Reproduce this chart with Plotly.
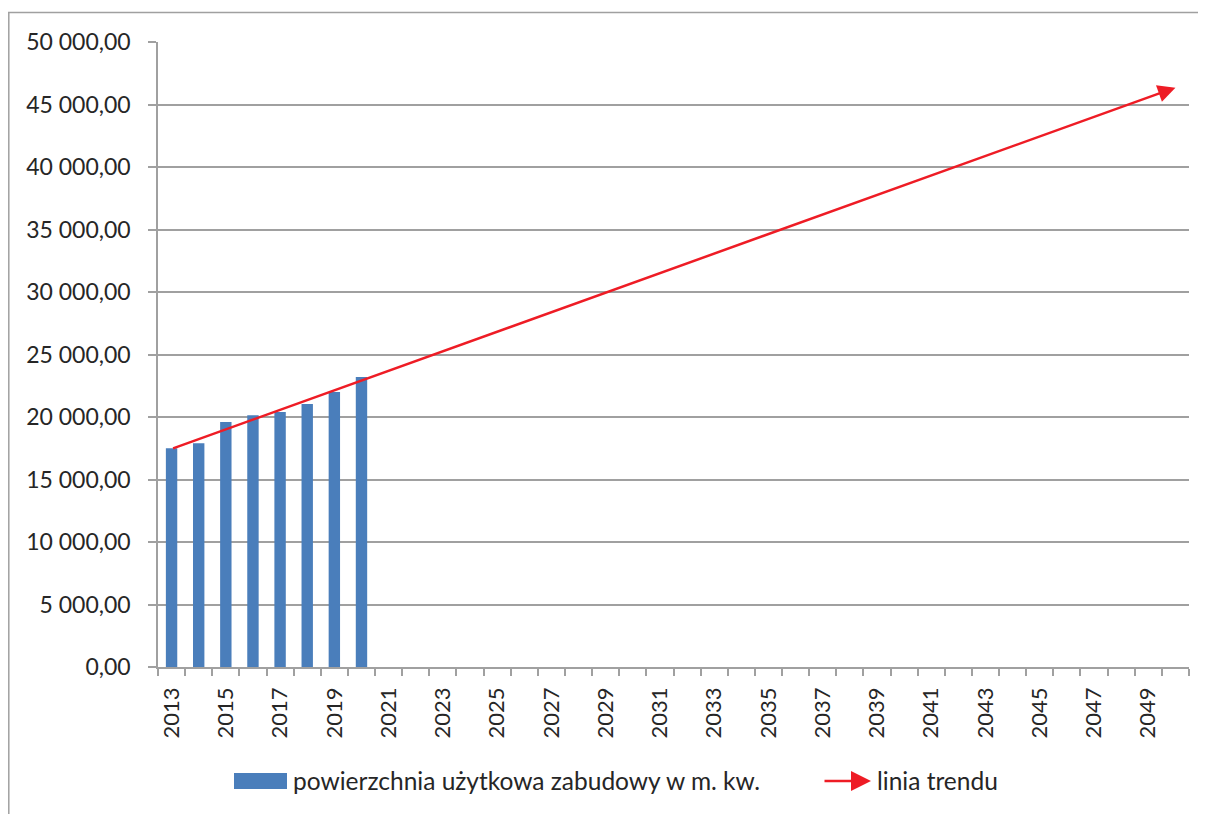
import plotly.graph_objects as go

# ---- data ----
years = [2013, 2014, 2015, 2016, 2017, 2018, 2019, 2020]
area_values = [17500, 17900, 19600, 20150, 20400, 21050, 22000, 23200]
trend_years = [2013, 2050]
trend_values = [17450, 46350]
x_tick_labels = [str(y) for y in range(2013, 2050, 2)]
y_tick_values = list(range(0, 50001, 5000))
bar_name = "powierzchnia użytkowa zabudowy w m. kw."
trend_name = "linia trendu"

# ---- geometry (page pixels; page has an 8px body margin) ----
OFF = 8
W, H = 1206 - OFF, 814 - OFF
L, R, T, B = 158, 1189, 42, 667   # plot area in page pixels
def px(x):
    return (x - L) / (R - L)
def py(y):
    return (B - y) / (B - T)

FONT = "Lato"
TXT = "#262626"
GRID = "#a0a0a0"
BLUE = "#4a7ebb"
RED = "#ee1c25"

fig = go.Figure()
fig.add_trace(go.Bar(x=years, y=area_values, width=0.42, marker=dict(color=BLUE, line=dict(width=0)),
                     name=bar_name, showlegend=False))

# trend arrow
fig.add_annotation(x=trend_years[-1], y=trend_values[-1], ax=trend_years[0], ay=trend_values[0],
                   xref="x", yref="y", axref="x", ayref="y", text="", showarrow=True,
                   arrowhead=2, arrowsize=1.4, arrowwidth=2.5, arrowcolor=RED, standoff=0)

# manual legend
ly = 781
fig.add_shape(type="rect", xref="paper", yref="paper", x0=px(234), x1=px(287), y0=py(773), y1=py(789),
              fillcolor=BLUE, line=dict(width=0))
fig.add_annotation(xref="paper", yref="paper", x=px(291), y=py(ly), text=bar_name, showarrow=False,
                   xanchor="left", yanchor="middle", font=dict(family=FONT, size=24.5, color=TXT))
fig.add_annotation(xref="paper", yref="paper", x=px(871), y=py(ly), ax=-48, ay=0, text="", showarrow=True,
                   arrowhead=2, arrowsize=1.6, arrowwidth=2.5, arrowcolor=RED, standoff=0)
fig.add_annotation(xref="paper", yref="paper", x=px(875), y=py(ly), text=trend_name, showarrow=False,
                   xanchor="left", yanchor="middle", font=dict(family=FONT, size=24.5, color=TXT))

# outer border (top and left)
fig.add_shape(type="line", xref="paper", yref="paper", x0=px(8), x1=px(1206), y0=py(12.5), y1=py(12.5),
              line=dict(color=GRID, width=1.5))
fig.add_shape(type="line", xref="paper", yref="paper", x0=px(8.8), x1=px(8.8), y0=py(12), y1=py(830),
              line=dict(color=GRID, width=1.5))

fig.update_layout(
    width=W, height=H,
    margin=dict(l=L - OFF, r=(1206 - R), t=T - OFF, b=(814 - B)),
    paper_bgcolor="white", plot_bgcolor="white",
    separators=", ",
    font=dict(family=FONT, size=22, color=TXT),
    showlegend=False,
)
fig.update_xaxes(
    range=[2012.5, 2050.5], tickvals=list(range(2013, 2050, 2)), ticktext=x_tick_labels,
    tickangle=-90, ticks="", showgrid=False, showline=True, linecolor=GRID, linewidth=1.5,
    ticklabelstandoff=10, tickfont=dict(family=FONT, size=22, color=TXT),
    minor=dict(ticks="outside", tick0=2012.5, dtick=1, ticklen=7, tickcolor=GRID, tickwidth=1.5, showgrid=False),
    zeroline=False,
)
fig.update_yaxes(
    range=[0, 50000], tickvals=y_tick_values, tickformat=",.2f",
    ticks="outside", ticklen=8, tickcolor=GRID, tickwidth=1.5,
    showgrid=True, gridcolor=GRID, gridwidth=1.5,
    showline=True, linecolor=GRID, linewidth=1.5, zeroline=False,
    ticklabelstandoff=13, tickfont=dict(family=FONT, size=23, color=TXT),
)

fig.write_html("out.html")
